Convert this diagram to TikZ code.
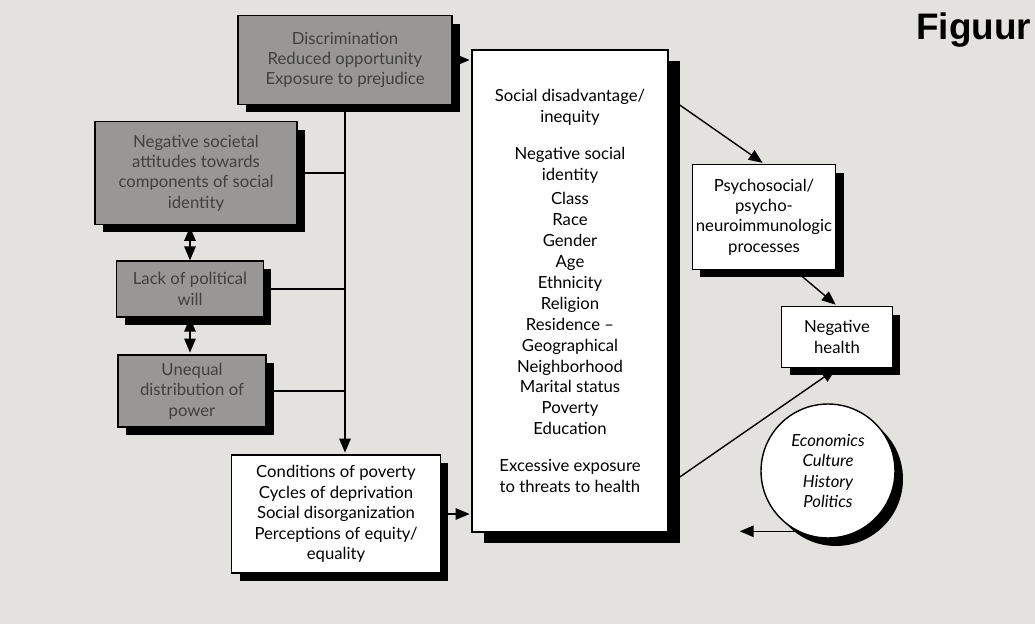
\documentclass[tikz,border=0pt]{standalone}
\usepackage{fontspec}
\setmainfont{Lato}
\newfontfamily\figfont{Liberation Sans}
\usepackage{tikz}
\usetikzlibrary{arrows,shadows}

\definecolor{paper}{RGB}{228,226,222}
\definecolor{stone}{RGB}{152,151,149}

\begin{document}
\begin{tikzpicture}[->,>=triangle 45,shorten >=1pt,x=0.02cm,y=-0.02cm,thick]
  \tikzstyle{every node}=[font=\fontsize{9.5}{11.6}\selectfont,align=center,inner sep=2pt]
  \tikzstyle{box}=[draw,fill=white]
  \tikzstyle{dark}=[draw,fill=stone,text=black!75]
  \tikzstyle{shad}=[drop shadow={shadow xshift=0.16cm,shadow yshift=-0.16cm,fill=black,opacity=1}]
  \tikzstyle{bigshad}=[drop shadow={shadow xshift=0.24cm,shadow yshift=-0.22cm,fill=black,opacity=1}]

  \fill[paper] (0,0) rectangle (1035,624);
  \useasboundingbox (0,0) rectangle (1035,624);

  \node[font=\figfont\fontsize{21}{24}\selectfont\bfseries,anchor=west] (fig) at (912,30) {Figuur};

  % left column
  \node[dark,shad,minimum width=4.28cm,minimum height=1.78cm] (disc) at (345,60)
       {Discrimination\\Reduced opportunity\\Exposure to prejudice};
  \node[dark,shad,minimum width=4.04cm,minimum height=2.06cm] (neg) at (196,173)
       {Negative societal\\attitudes towards\\components of social\\identity};
  \node[dark,shad,minimum width=2.94cm,minimum height=1.12cm] (lack) at (190,289)
       {Lack of political\\will};
  \node[dark,shad,minimum width=2.96cm,minimum height=1.44cm] (uneq) at (192,391)
       {Unequal\\distribution of\\power};
  \node[box,shad,minimum width=4.18cm,minimum height=2.36cm] (cond) at (336,514)
       {Conditions of poverty\\Cycles of deprivation\\Social disorganization\\Perceptions of equity/\\equality};

  % middle
  \node[box,bigshad,minimum width=3.92cm,minimum height=9.64cm,
        font=\fontsize{9.5}{11.9}\selectfont] (main) at (570,291)
       {Social disadvantage/\\inequity\\[9pt]
        Negative social\\identity\\[2pt]
        Class\\Race\\Gender\\Age\\Ethnicity\\Religion\\Residence --\\Geographical\\
        Neighborhood\\Marital status\\Poverty\\Education\\[9pt]
        Excessive exposure\\to threats to health};

  % right
  \node[box,shad,minimum width=2.84cm,minimum height=2.10cm] (psy) at (764,217)
       {Psychosocial/\\psycho-\\neuroimmunologic\\processes};
  \node[box,shad,minimum width=2.22cm,minimum height=1.22cm] (nh) at (837,337)
       {Negative\\health};
  \node[box,shad,circle,minimum size=2.68cm,font=\fontsize{9.5}{11.6}\selectfont\itshape] (circ) at (828,471)
       {Economics\\Culture\\History\\Politics};
  \coordinate (out) at (738,533);

  \path (disc.east) edge (disc.east -| main.west)
        (disc.south) edge (disc.south |- cond.north)
        (cond.east) edge (cond.east -| main.west)
        (main.63) edge (psy.north)
        (psy.-60) edge (nh.north)
        (main.-63) edge (nh.south)
        (circ.243) edge (circ.243 -| out);

  \path[<->] (lack.north) edge (lack.north |- neg.south)
             (lack.south) edge (lack.south |- uneq.north);

  \path[-,shorten >=0pt] (neg.east) edge (neg.east -| disc.south)
        (lack.east) edge (lack.east -| disc.south)
        (uneq.east) edge (uneq.east -| disc.south);
\end{tikzpicture}
\end{document}
